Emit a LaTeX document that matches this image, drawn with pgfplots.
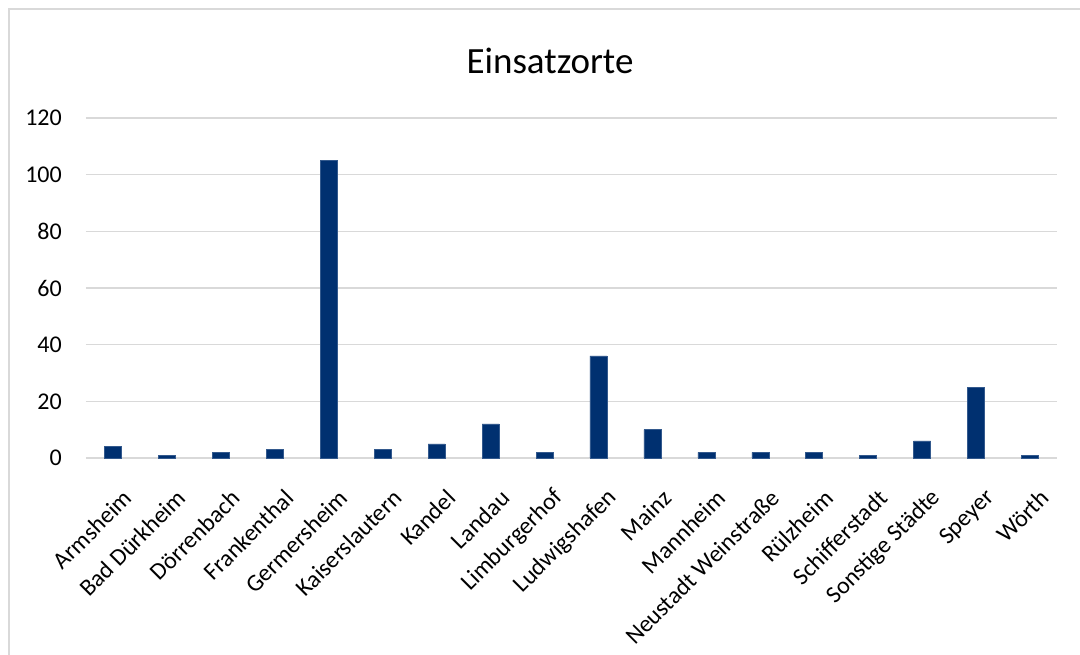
\documentclass[border=0pt]{standalone}
\usepackage{fontspec}
\setmainfont{Carlito}
\usepackage{pgfplots}
\pgfplotsset{compat=1.18}
\definecolor{barc}{RGB}{0,48,112}
\definecolor{gridc}{RGB}{217,217,217}
\begin{document}
\begin{tikzpicture}[x=1pt,y=1pt]
\useasboundingbox (0,0) rectangle (1080,655);
\draw[gridc, line width=1.5pt] (9,-10) -- (9,646) -- (1090,646);
\node[font=\fontsize{37}{41}\selectfont] at (550,594) {Einsatzorte};
\begin{axis}[
  at={(86pt,197pt)}, anchor=south west,
  scale only axis, width=971pt, height=340pt,
  xmin=-0.5, xmax=17.5, ymin=0, ymax=120,
  ytick={0,20,...,120},
  xtick={0,...,17},
  xticklabels={Armsheim,Bad Dürkheim,Dörrenbach,Frankenthal,Germersheim,Kaiserslautern,Kandel,Landau,Limburgerhof,Ludwigshafen,Mainz,Mannheim,Neustadt Weinstraße,Rülzheim,Schifferstadt,Sonstige Städte,Speyer,Wörth},
  ymajorgrids, grid style={gridc, line width=1.5pt},
  axis line style={draw=none},
  major tick length=0pt,
  tick label style={font=\fontsize{24}{28}\selectfont},
  /pgf/number format/assume math mode=true,
  yticklabel style={anchor=east, inner sep=0pt, xshift=-24pt},
  xticklabel style={rotate=45, anchor=east, inner sep=0pt, xshift=-15pt, yshift=-36pt},
  ybar, bar width=17pt, bar shift=0pt,
  clip=false,
]
\addplot[fill=barc, draw=barc!80!white, line width=0.6pt] coordinates {
(0,4) (1,1) (2,2) (3,3) (4,105) (5,3) (6,5) (7,12) (8,2) (9,36)
(10,10) (11,2) (12,2) (13,2) (14,1) (15,6) (16,25) (17,1)};
\end{axis}
\end{tikzpicture}
\end{document}
